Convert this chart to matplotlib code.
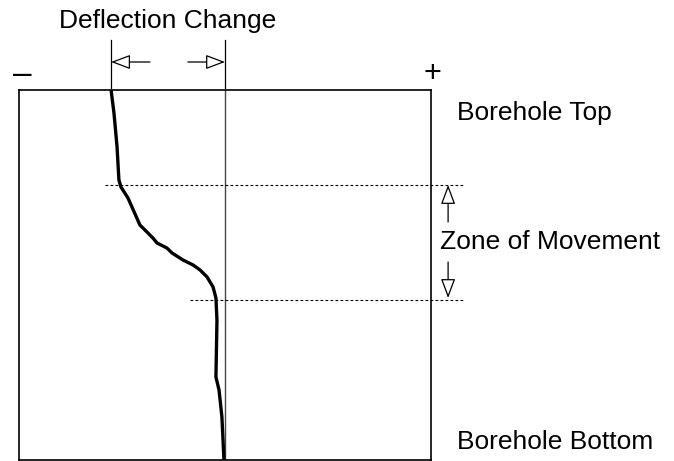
import numpy as np
import matplotlib.pyplot as plt

plt.rcParams['font.family'] = ['Liberation Sans', 'DejaVu Sans']

# inclinometer profile: depth (top = 0) and deflection (centre line = 0)
depth = [0.0, 2.3, 5.7, 9.0, 9.7, 10.8, 13.5, 14.3, 14.8, 15.3, 15.8, 16.3,
         17.0, 17.5, 18.0, 18.7, 19.7, 20.8, 23.0, 28.7, 30.0, 32.7, 37.0]
deflection = [-0.553, -0.539, -0.524, -0.515, -0.505, -0.471, -0.413, -0.374,
              -0.350, -0.330, -0.282, -0.257, -0.204, -0.155, -0.121, -0.087,
              -0.058, -0.044, -0.039, -0.044, -0.029, -0.015, -0.005]
zone_top = 9.5
zone_bottom = 21.0

fig = plt.figure(figsize=(6.74, 4.61), dpi=100)
ax = fig.add_axes([19/674, 1/461, 412/674, 370/461])
ax.set_xlim(-1, 1)
ax.set_ylim(37, 0)
ax.set_xticks([])
ax.set_yticks([])
for s in ax.spines.values():
    s.set_linewidth(1.2)
    s.set_color('black')

ax.axvline(0, color='#444444', lw=1.0)
ax.plot(deflection, depth, color='black', lw=2.4, solid_capstyle='butt')

# zone of movement boundaries
ax.plot([-0.583, 1.155], [zone_top, zone_top], color='black', lw=0.8, ls=(0, (2.5, 2)), clip_on=False)
ax.plot([-0.170, 1.155], [zone_bottom, zone_bottom], color='black', lw=0.8, ls=(0, (2.5, 2)), clip_on=False)

ap = dict(arrowstyle='-|>,head_length=0.85,head_width=0.32', fc='white', ec='black', lw=0.9,
          shrinkA=0, shrinkB=0, mutation_scale=14)

# deflection change markers
for x in [deflection[0], 0]:
    ax.plot([x, x], [-5.0, -0.2], color='black', lw=0.9, clip_on=False)
ax.annotate('', xy=(deflection[0], -2.8), xytext=(-0.364, -2.8), arrowprops=ap, annotation_clip=False)
ax.annotate('', xy=(0, -2.8), xytext=(-0.18, -2.8), arrowprops=ap, annotation_clip=False)

ax.annotate('', xy=(1.083, zone_top), xytext=(1.083, 13.2), arrowprops=ap, annotation_clip=False)
ax.annotate('', xy=(1.083, zone_bottom - 0.2), xytext=(1.083, 17.2), arrowprops=ap, annotation_clip=False)

fs = 19
ax.text(-0.985, -1.6, '\u2013', fontsize=24, ha='center', va='center', clip_on=False)
ax.text(1.005, -1.6, '+', fontsize=22, ha='center', va='center', clip_on=False)
ax.text(-0.279, -6.9, 'Deflection Change', fontsize=fs, ha='center', va='center', clip_on=False)
ax.text(1.126, 2.3, 'Borehole Top', fontsize=fs, ha='left', va='center', clip_on=False)
ax.text(1.044, 15.2, 'Zone of Movement', fontsize=fs, ha='left', va='center', clip_on=False)
ax.text(1.126, 35.2, 'Borehole Bottom', fontsize=fs, ha='left', va='center', clip_on=False)

fig.savefig('out.png', dpi=100)
